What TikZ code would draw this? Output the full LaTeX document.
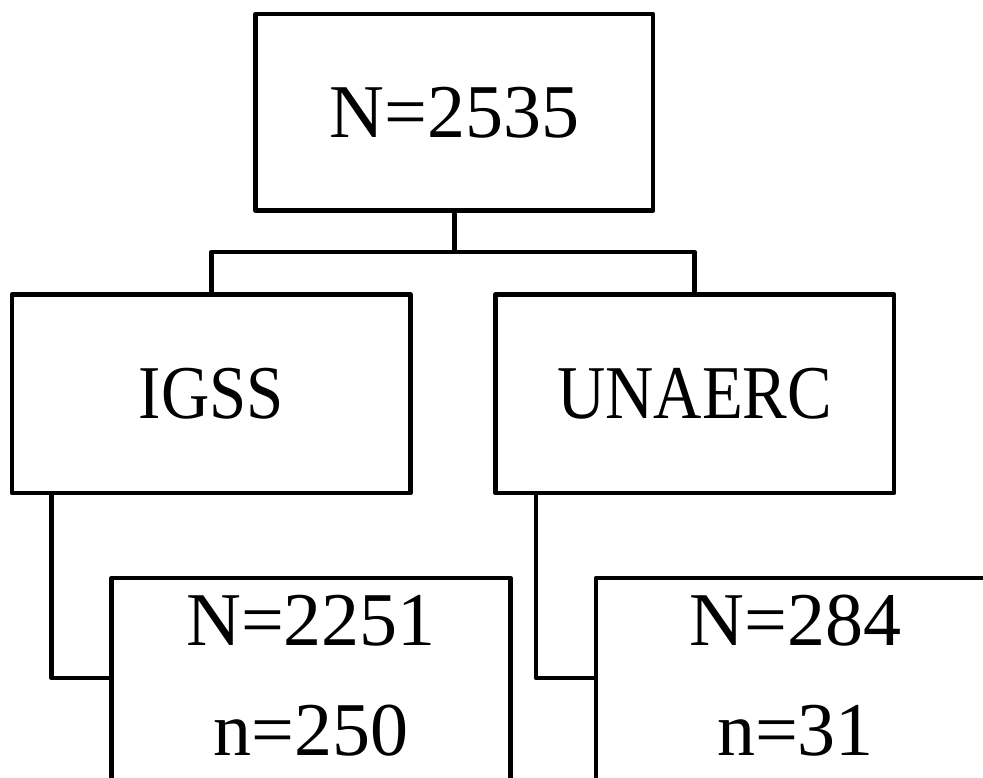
\documentclass[tikz,border=0pt]{standalone}
\usepackage{fontspec}
\setmainfont{Liberation Serif}
\newfontfamily\narrowserif[FakeStretch=0.88]{Liberation Serif}
\begin{document}
\begin{tikzpicture}[x=1pt,y=-1pt,
  line width=4.6pt, line join=round, line cap=rect,
  box/.style={draw, line width=4.6pt, inner sep=0pt, outer sep=0pt,
    font=\fontsize{76}{110}\selectfont},
  narrowbox/.style={box, font=\narrowserif\fontsize{76}{110}\selectfont},
  lbl/.style={inner sep=0pt, anchor=base, font=\fontsize{76}{110}\selectfont}]
\useasboundingbox (0,0) rectangle (983,777);
\clip (0,0) rectangle (983,777);
\node[box, minimum width=397.5pt, minimum height=196.5pt] (top) at (454.25,112.25) {N=2535};
\node[narrowbox, minimum width=398.5pt, minimum height=198.5pt] (left) at (211.25,393.75) {IGSS};
\node[narrowbox, minimum width=398.5pt, minimum height=198.5pt] (right) at (694.75,393.75) {UNAERC};
\node[box, minimum width=399pt, minimum height=210pt] (bl) at (311,683) {};
\node[box, minimum width=399pt, minimum height=210pt] (br) at (795.5,683) {};
\node[lbl] (blN) at ([yshift=-67pt]bl.north) {N=2251};
\node[lbl] (bln) at ([yshift=-177pt]bl.north) {n=250};
\node[lbl] (brN) at ([yshift=-67pt]br.north) {N=284};
\node[lbl] (brn) at ([yshift=-177pt]br.north) {n=31};
\coordinate (bus) at (0,252);
\draw (left.north) |- (bus -| right.north) -- (right.north);
\draw (top.south) -- (top.south |- bus);
\draw ([xshift=39.5pt]left.south west) |- ([yshift=5pt]bl.west);
\draw ([xshift=40.5pt]right.south west) |- ([yshift=5pt]br.west);
\end{tikzpicture}
\end{document}
